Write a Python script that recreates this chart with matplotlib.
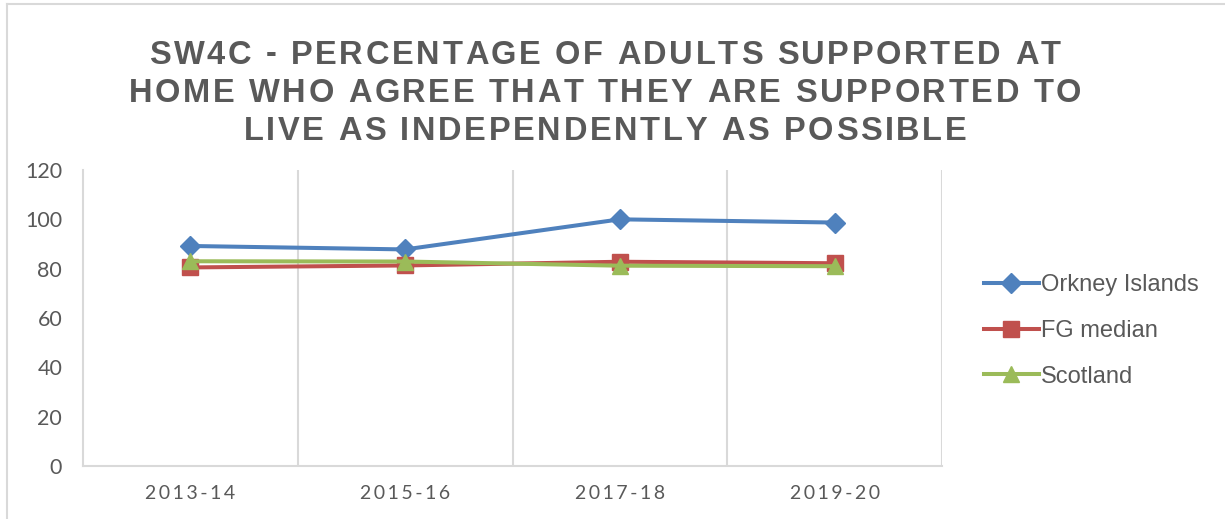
import matplotlib
matplotlib.use("Agg")
import matplotlib.pyplot as plt
from matplotlib import font_manager, ft2font
from matplotlib.lines import Line2D

# SW4C indicator values by year
years = ["2013-14", "2015-16", "2017-18", "2019-20"]
orkney = [89.2, 87.8, 100.0, 98.7]
fg_median = [80.5, 81.3, 82.8, 82.2]
scotland = [83.0, 82.9, 81.2, 81.0]

title_lines = ["SW4C - PERCENTAGE OF ADULTS SUPPORTED AT",
               "HOME WHO AGREE THAT THEY ARE SUPPORTED TO",
               "LIVE AS INDEPENDENTLY AS POSSIBLE"]

GREY = "#595959"
GRID = "#D9D9D9"
DPI = 100
W, H = 1225, 519

fig = plt.figure(figsize=(W / DPI, H / DPI), dpi=DPI)
ax = fig.add_axes([83 / W, 1 - 466 / H, (942 - 83) / W, (466 - 170) / H])

x = range(len(years))
ax.plot(x, orkney, color="#4F81BD", lw=2.9, marker="D", ms=10.5, label="Orkney Islands")
ax.plot(x, fg_median, color="#C0504D", lw=2.9, marker="s", ms=12, label="FG median")
ax.plot(x, scotland, color="#9BBB59", lw=2.9, marker="^", ms=12, label="Scotland")

ax.set_xlim(-0.5, len(years) - 0.5)
ax.set_ylim(0, 120)
ax.set_yticks(range(0, 121, 20))
ax.set_xticks(list(x))
# spaced-out category labels
ax.set_xticklabels(["\u2009".join(y) for y in years], family=["Lato", "DejaVu Sans"],
                   fontsize=14, color=GREY)
for lab in ax.get_yticklabels():
    lab.set_family("Lato")
    lab.set_fontsize(15.5)
    lab.set_color(GREY)
ax.tick_params(length=0)
ax.tick_params(axis="y", pad=15)
ax.tick_params(axis="x", pad=14)

# vertical gridlines between categories
for b in [0.5, 1.5, 2.5, 3.5]:
    ax.axvline(b, color=GRID, lw=1.5, zorder=0)
for s in ["top", "right"]:
    ax.spines[s].set_visible(False)
for s in ["left", "bottom"]:
    ax.spines[s].set_color(GRID)
    ax.spines[s].set_linewidth(1.5)

leg = fig.legend(loc="center left", bbox_to_anchor=(963 / W, 1 - 331 / H), frameon=False,
                 prop={"family": "Liberation Sans", "size": 17}, handlelength=2.3,
                 handletextpad=0.1, labelspacing=1.0)
for t in leg.get_texts():
    t.set_color(GREY)


# title with letter spacing, one glyph at a time
def tracked_text(s, cx, cy, size, gap, prop):
    font = ft2font.FT2Font(font_manager.findfont(prop))
    font.set_size(size, DPI)
    advs = []
    for ch in s:
        g = font.load_char(ord(ch))
        advs.append(g.linearHoriAdvance / 65536)
    total = sum(advs) + gap * (len(s) - 1)
    px = cx - total / 2
    for ch, a in zip(s, advs):
        fig.text(px / W, 1 - cy / H, ch, fontproperties=prop, color=GREY,
                 ha="left", va="center")
        px += a + gap


tprop = font_manager.FontProperties(family="Liberation Sans", weight="bold", size=23.5)
for i, line in enumerate(title_lines):
    tracked_text(line, 605, 55 + 38 * i, 23.5, 2.6, tprop)

# chart area border
fig.add_artist(Line2D([7 / W, 7 / W], [0, 1 - 4 / H], color=GRID, lw=1.5))
fig.add_artist(Line2D([7 / W, 1], [1 - 4 / H, 1 - 4 / H], color=GRID, lw=1.5))

fig.savefig("out.png", dpi=DPI)
